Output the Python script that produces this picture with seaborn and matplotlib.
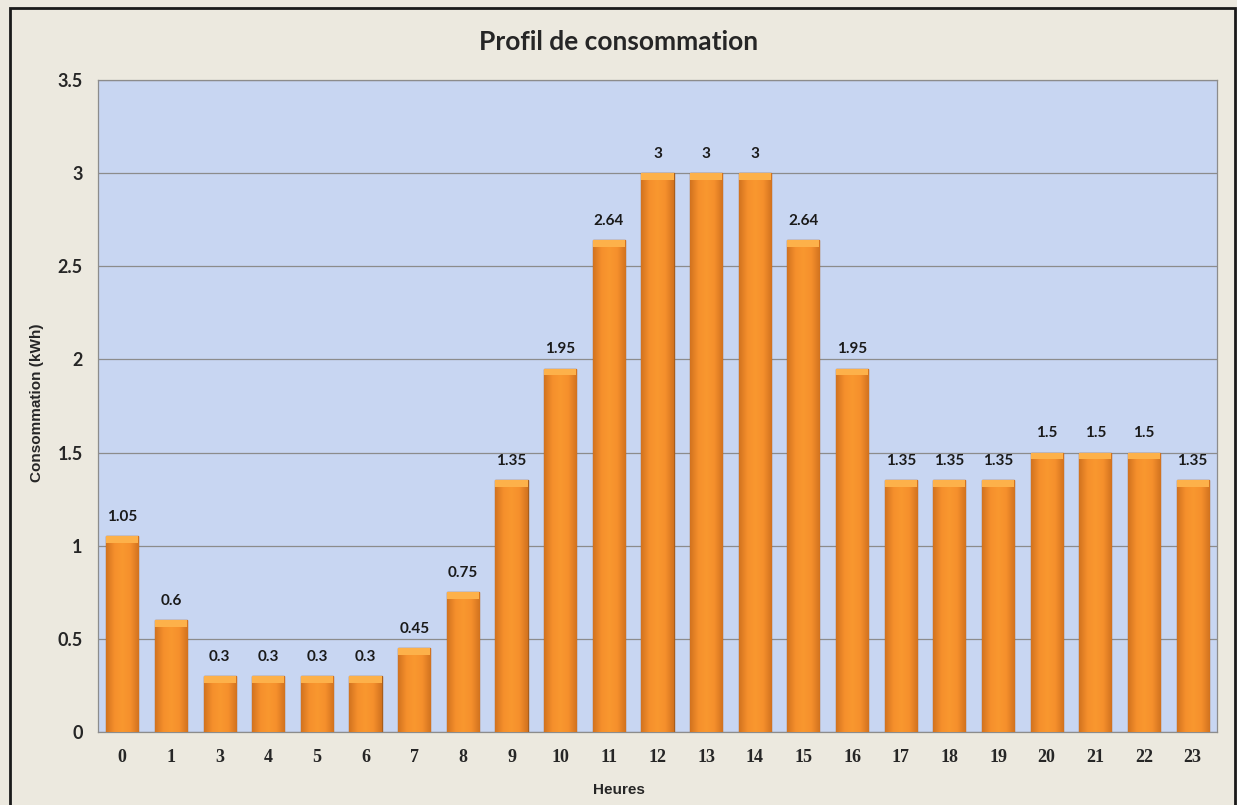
import matplotlib.pyplot as plt
import numpy as np
import pandas as pd
import seaborn as sns
from matplotlib.colors import LinearSegmentedColormap
from matplotlib.patches import Rectangle

# data (hour 2 is absent in the original)
heures = ["0", "1", "3", "4", "5", "6", "7", "8", "9", "10", "11", "12",
          "13", "14", "15", "16", "17", "18", "19", "20", "21", "22", "23"]
consommation = [1.05, 0.6, 0.3, 0.3, 0.3, 0.3, 0.45, 0.75, 1.35, 1.95, 2.64, 3,
                3, 3, 2.64, 1.95, 1.35, 1.35, 1.35, 1.5, 1.5, 1.5, 1.35]
y_ticks = [0, 0.5, 1, 1.5, 2, 2.5, 3, 3.5]

df = pd.DataFrame({"Heures": heures, "Consommation": consommation})

sns.set_theme(style="white")

fig = plt.figure(figsize=(12.37, 8.05), dpi=100, facecolor="#ECE9DF")
ax = fig.add_axes([0.0792, 0.0907, 0.9046, 0.81])
ax.set_facecolor("#C8D6F2")

sns.barplot(data=df, x="Heures", y="Consommation", order=heures,
            color="#F5902C", width=0.66, edgecolor="#A85E1C", linewidth=1.0,
            saturation=1, ax=ax, zorder=3)

# orange gradient on each bar, clipped to the bar shape
bar_cmap = LinearSegmentedColormap.from_list(
    "bar", ["#D2731F", "#F58F2C", "#F9982F", "#F58F2C", "#D2731F"])
grad = np.linspace(0, 1, 64).reshape(1, -1)
for p in ax.patches:
    x0, y0 = p.get_x(), p.get_y()
    w, h = p.get_width(), p.get_height()
    im = ax.imshow(grad, cmap=bar_cmap, aspect="auto",
                   extent=[x0, x0 + w, y0, y0 + h], zorder=3.5)
    im.set_clip_path(p)
    ax.add_patch(Rectangle((x0, y0 + h - 0.035), w, 0.035, facecolor="#FDB14A",
                           edgecolor="none", zorder=3.6))

ax.set_xlim(-0.5, len(heures) - 0.5)
ax.set_ylim(0, 3.5)
ax.set_yticks(y_ticks)
ax.set_yticklabels([f"{t:g}" for t in y_ticks], fontsize=13,
                   fontweight="bold", family="Lato")
ax.set_xticks(range(len(heures)))
ax.set_xticklabels(heures, fontsize=13, fontweight="bold",
                   family="Liberation Serif")
ax.tick_params(axis="x", pad=12, length=0)
ax.tick_params(axis="y", pad=11, length=0)
ax.yaxis.grid(True, color="#8C8C8C", linewidth=0.9, zorder=1)
ax.set_axisbelow(True)
for s in ax.spines.values():
    s.set_color("#8C8C8C")
    s.set_linewidth(0.9)

ax.bar_label(ax.containers[0], labels=[f"{v:g}" for v in consommation],
             padding=9, fontsize=11, fontweight="bold", family="Lato",
             color="#1A1A1A")

ax.set_xlabel("")
ax.set_ylabel("")
fig.text(0.5, 0.948, "Profil de consommation", ha="center", va="center",
         fontsize=19, fontweight="bold", family="Lato")
fig.text(0.5, 0.019, "Heures", ha="center", va="center", fontsize=11,
         fontweight="bold", family="Liberation Sans")
fig.text(0.030, 0.5, "Consommation (kWh)", ha="center", va="center",
         rotation=90, fontsize=11, fontweight="bold", family="Liberation Sans")

fig.patches.append(Rectangle((0.008, -0.01), 0.99, 1.0, transform=fig.transFigure,
                             fill=False, edgecolor="#1A1A1A", linewidth=2))

fig.savefig("out.png", dpi=100, facecolor=fig.get_facecolor())
